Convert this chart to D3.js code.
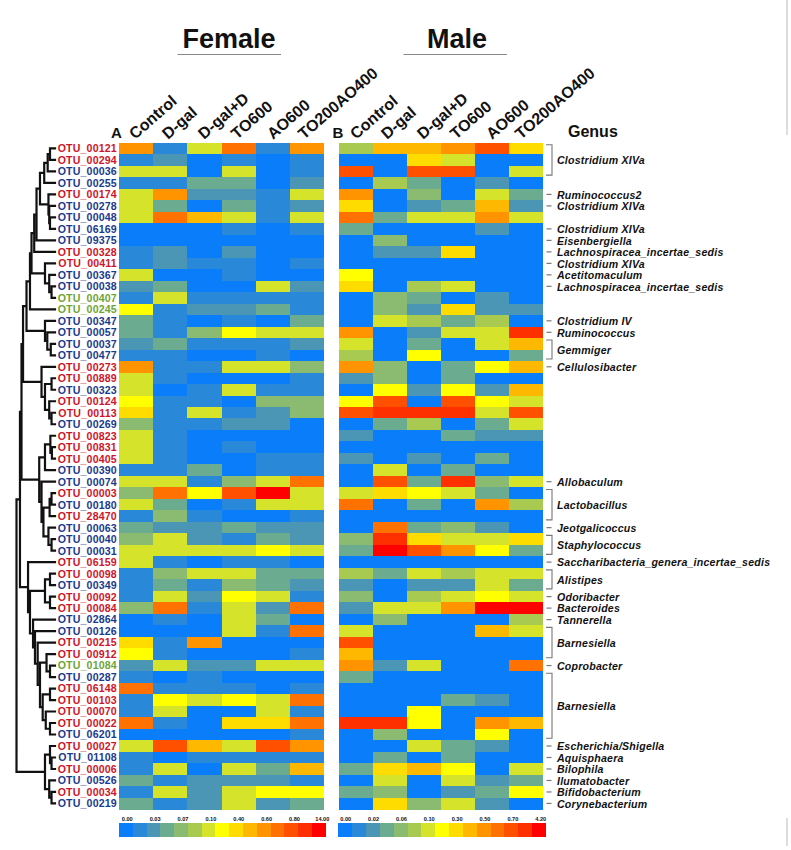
<!DOCTYPE html>
<html><head><meta charset="utf-8">
<script src="https://cdn.jsdelivr.net/npm/d3@7/dist/d3.min.js"></script>
<style>html,body{margin:0;padding:0;background:#fff}svg{display:block}text{font-family:"Liberation Sans",Arial,sans-serif}</style>
</head><body><svg id="c" width="791" height="850"></svg>
<script>
const otus=["00121","00294","00036","00255","00174","00278","00048","06169","09375","00328","00411","00367","00038","00407","00245","00347","00057","00037","00477","00273","00889","00323","00124","00113","00269","00823","00831","00405","00390","00074","00003","00180","28470","00063","00040","00031","06159","00098","00349","00092","00084","02864","00126","00215","00912","01084","00287","06148","00103","00070","00022","06201","00027","01108","00006","00526","00034","00219"];
const redOtus=["00121","00294","00174","00328","00411","00273","00889","00124","00113","00823","00831","00405","00003","28470","06159","00098","00092","00084","00215","00912","06148","00103","00070","00022","00027","00006","00034"];
const greenOtus=["00407","00245","01084"];
const groups=["Control","D-gal","D-gal+D","TO600","AO600","TO200AO400"];
// colour-bin index (0..14) of every cell, rows in otus order
const femaleBins=[[10,1,6,11,1,10],[1,2,0,1,0,1],[6,6,0,6,0,1],[1,1,3,3,0,2],[6,10,2,2,1,6],[6,3,0,3,1,2],[6,11,9,6,1,6],[0,0,0,1,0,1],[0,0,0,0,0,0],[1,2,0,2,0,0],[1,2,1,1,0,1],[6,0,0,1,0,0],[2,3,0,0,6,2],[1,6,1,1,1,1],[7,1,2,2,3,1],[3,1,0,1,0,3],[3,1,4,7,6,6],[2,3,1,1,1,2],[1,1,0,0,1,0],[10,1,1,6,6,4],[6,1,0,0,0,1],[6,0,1,6,1,1],[7,1,1,0,4,4],[8,1,6,1,2,4],[4,1,1,2,2,0],[6,1,0,0,0,0],[6,1,0,1,0,0],[6,1,0,0,1,1],[1,1,3,0,1,1],[6,6,1,4,6,11],[4,11,7,12,14,6],[6,3,0,1,6,6],[1,4,1,0,0,1],[3,2,2,3,2,2],[4,6,2,1,3,2],[6,6,6,6,7,6],[6,1,0,1,1,0],[1,4,6,6,3,3],[1,3,1,4,3,2],[1,6,2,7,6,1],[4,11,1,6,2,11],[0,1,0,6,3,0],[0,0,0,6,1,11],[8,1,10,0,0,0],[7,1,0,0,0,1],[2,6,2,2,6,6],[1,0,1,0,0,0],[11,1,1,1,0,1],[1,7,6,7,6,11],[1,6,0,0,6,1],[11,1,0,8,8,11],[0,0,0,0,0,1],[6,12,9,6,12,10],[1,0,1,1,1,1],[1,6,0,6,3,9],[3,1,2,2,2,1],[1,6,2,6,7,7],[3,1,2,6,2,3]];
const maleBins=[[5,9,9,10,12,8],[0,0,8,6,0,0],[12,0,12,12,0,6],[0,5,3,0,2,0],[10,0,4,0,6,3],[8,0,2,3,9,2],[11,3,6,6,10,6],[3,0,0,0,2,0],[0,4,0,0,0,0],[0,2,2,8,0,0],[0,0,0,0,0,0],[7,0,0,0,0,0],[8,0,5,6,0,0],[0,4,3,0,2,0],[0,4,2,8,2,2],[0,6,5,3,5,0],[10,0,2,6,6,13],[6,0,3,0,6,9],[5,0,7,0,0,3],[10,4,0,3,7,9],[2,4,0,3,0,0],[0,7,2,7,2,9],[7,12,0,12,7,6],[12,13,13,13,6,12],[0,3,5,0,3,6],[2,0,0,3,2,2],[0,0,0,0,0,0],[2,0,2,0,3,0],[0,6,0,3,0,0],[0,12,3,13,4,6],[6,8,7,6,3,0],[11,0,3,0,10,5],[0,0,0,0,0,0],[0,11,3,4,2,0],[4,13,8,6,6,8],[3,14,12,10,7,3],[0,0,0,0,0,0],[5,3,6,5,6,6],[2,0,2,2,6,3],[4,0,5,6,7,6],[2,6,6,10,14,14],[0,4,0,0,0,5],[6,0,0,0,9,6],[12,0,0,0,0,0],[9,0,0,0,0,0],[10,2,6,0,0,11],[3,0,0,0,0,0],[0,0,0,0,0,0],[0,0,0,3,2,0],[0,0,7,0,0,0],[13,13,7,0,10,9],[0,4,0,0,7,0],[0,0,6,3,2,0],[0,3,0,3,0,0],[3,8,9,7,0,6],[0,6,0,6,2,3],[3,4,0,2,3,7],[0,8,4,6,2,0]];
const palette=["#0a7dfa","#2a88d8","#4a96b4","#6bab90","#8abb70","#a9ca50","#d5e42a","#ffff00","#ffdc00","#ffb800","#ff9300","#ff7100","#ff5000","#ff3000","#ff0000"];
const femaleTicks=["0.00","0.03","0.07","0.10","0.40","0.60","0.80","14.00"];
const maleTicks=["0.00","0.02","0.06","0.10","0.30","0.50","0.70","4.20"];
// genus annotations: first row, last row (1-based), name
const genusSpans=[[1,3,"Clostridium XIVa"],[5,5,"Ruminococcus2"],[6,6,"Clostridium XIVa"],[8,8,"Clostridium XIVa"],[9,9,"Eisenbergiella"],[10,10,"Lachnospiracea_incertae_sedis"],[11,11,"Clostridium XIVa"],[12,12,"Acetitomaculum"],[13,13,"Lachnospiracea_incertae_sedis"],[16,16,"Clostridium IV"],[17,17,"Ruminococcus"],[18,19,"Gemmiger"],[20,20,"Cellulosibacter"],[30,30,"Allobaculum"],[31,33,"Lactobacillus"],[34,34,"Jeotgalicoccus"],[35,36,"Staphylococcus"],[37,37,"Saccharibacteria_genera_incertae_sedis"],[38,39,"Alistipes"],[40,40,"Odoribacter"],[41,41,"Bacteroides"],[42,42,"Tannerella"],[43,45,"Barnesiella"],[46,46,"Coprobacter"],[47,52,"Barnesiella"],[53,53,"Escherichia/Shigella"],[54,54,"Aquisphaera"],[55,55,"Bilophila"],[56,56,"Ilumatobacter"],[57,57,"Bifidobacterium"],[58,58,"Corynebacterium"]];
// clustering tree: [merge height, child, child...], leaves are OTU ids
const clusterAB=[.19,[.13,"00121","00294"],"00036"];
const clusterC=[.17,"00174",[.15,"00278",[.13,"00048","06169"]]];
const clusterD=[.26,"00411",[.15,"00367",[.09,"00038","00407"]]];
const clusterTop=[.61,[.54,[.48,[.39,[.28,clusterAB,"00255"],clusterC],"09375"],"00328"],clusterD];
const clusterE=[.74,[.65,clusterTop,"00245"],[.26,"00347",[.2,"00057",[.11,"00037","00477"]]]];
const clusterF=[.35,"00273",[.26,[.09,"00889","00323"],[.15,"00124",[.09,"00113","00269"]]]];
const clusterG=[.41,[.26,[.12,"00823",[.08,"00831","00405"]],"00390"],[.35,"00074",[.3,[.14,[.09,"00003","00180"],"28470"],[.17,"00063",[.09,"00040","00031"]]]]];
const clusterH=[.26,[.13,"00098","00349"],[.13,"00092","00084"]];
const clusterI=[.39,[.22,"00912",[.13,"01084","00287"]],[.32,[.13,"06148","00103"],[.24,"00070",[.13,"00022","06201"]]]];
const clusterJ=[.7,"06159",[.65,clusterH,[.57,"02864",[.52,"00126",[.45,"00215",clusterI]]]]];
const clusterK=[.26,[.13,"00027",[.09,"01108","00006"]],[.15,"00526",[.09,"00034","00219"]]];
const clusterRoot=[1,[.91,[.87,[.83,clusterE,clusterF],clusterG],clusterJ],clusterK];

const svg=d3.select("#c");
const y=d3.scaleBand().domain(d3.range(otus.length)).range([142.7,809.2]);
const color=d3.scaleOrdinal().domain(d3.range(palette.length)).range(palette);
const rowY=i=>y(i)+y.bandwidth()/2;
const nameColor=o=>redOtus.includes(o)?"#cf1528":greenOtus.includes(o)?"#6fa536":"#1b3a8c";

function heat(bins,x0,x1){
  const x=d3.scaleBand().domain(groups).range([x0,x1]);
  const g=svg.append("g").attr("shape-rendering","crispEdges");
  bins.forEach((row,i)=>g.selectAll(null).data(row).join("rect")
    .attr("x",(d,j)=>x(groups[j])).attr("y",y(i)).attr("width",x.bandwidth()).attr("height",y.bandwidth()+.3)
    .attr("fill",d=>color(d)));
}
heat(femaleBins,119,324.4);
heat(maleBins,339,543.3);

svg.append("g").selectAll("text").data(otus).join("text")
  .attr("x",116.8).attr("y",(d,i)=>rowY(i)+3.9).attr("text-anchor","end")
  .attr("font-size",10.6).attr("font-weight","bold").attr("letter-spacing",.15)
  .attr("fill",nameColor).text(d=>"OTU_"+d);

// dendrogram
const root=d3.hierarchy(clusterRoot,d=>Array.isArray(d)?d.slice(1):null);
const hx=d3.scaleLinear().domain([0,1]).range([55,16.5]);
const h=n=>n.children?n.data[0]:0;
root.eachAfter(n=>{
  n.py=n.children?(n.children[0].py+n.children[n.children.length-1].py)/2:rowY(otus.indexOf(n.data));
});
let dp="";
root.each(n=>{ if(!n.children)return;
  const px=hx(h(n));
  dp+=`M${px},${n.children[0].py}V${n.children[n.children.length-1].py}`;
  n.children.forEach(c=>{dp+=`M${px},${c.py}H${hx(h(c))}`;});
});
svg.append("path").attr("d",dp).attr("fill","none").attr("stroke","#111").attr("stroke-width",2.2).attr("stroke-linecap","square");

// headings
[["Female",229,177.5,281],["Male",457,403.5,507]].forEach(([t,cx,a,b])=>{
  svg.append("text").attr("x",cx).attr("y",48).attr("text-anchor","middle").attr("font-size",27).attr("font-weight","bold").attr("fill","#111").text(t);
  svg.append("line").attr("x1",a).attr("x2",b).attr("y1",54.5).attr("y2",54.5).attr("stroke","#888").attr("stroke-width",1.2);
});
const colStarts=[135,168,204,237,273,304,356,387,423,456,492,521];
[...groups,...groups].forEach((t,i)=>{
  svg.append("text").attr("transform",`translate(${colStarts[i]},140) rotate(-41)`)
   .attr("font-size",16).attr("font-weight","bold").attr("fill","#111").text(t);
});
[["A",111],["B",332.5]].forEach(([t,x])=>svg.append("text").attr("x",x).attr("y",138).attr("font-size",15).attr("font-weight","bold").attr("fill","#111").text(t));
svg.append("text").attr("x",568).attr("y",137).attr("font-size",16).attr("font-weight","bold").attr("fill","#111").text("Genus");

// genus annotations
const gg=svg.append("g");
genusSpans.forEach(([a,b,name])=>{
  const top=a===b?rowY(a-1):y(a-1)+2, bot=a===b?rowY(a-1):y(b-1)+y.bandwidth()-2;
  const mid=(top+bot)/2;
  if(a===b) gg.append("line").attr("x1",546.5).attr("x2",551.5).attr("y1",mid).attr("y2",mid).attr("stroke","#777").attr("stroke-width",1.2);
  else gg.append("path").attr("d",`M546,${top}H552V${bot}H546`).attr("fill","none").attr("stroke","#777").attr("stroke-width",1.1);
  gg.append("text").attr("x",557).attr("y",mid+4.2).attr("font-size",10.6).attr("font-weight","bold").attr("font-style","italic").attr("letter-spacing",.22).attr("fill","#111").text(name);
});

// legends
function legend(ticks,x0,x1,t0,t1){
  const lx=d3.scaleBand().domain(d3.range(palette.length)).range([x0,x1]);
  const tx=d3.scalePoint().domain(ticks).range([t0,t1]);
  svg.append("g").attr("shape-rendering","crispEdges").selectAll("rect").data(palette).join("rect")
    .attr("x",(d,i)=>lx(i)).attr("y",823).attr("width",lx.bandwidth()+.3).attr("height",13.7).attr("fill",d=>d);
  svg.append("g").selectAll("text").data(ticks).join("text").attr("x",d=>tx(d)).attr("y",821).attr("text-anchor","middle")
    .attr("font-size",5.6).attr("font-weight","bold").attr("fill","#111").text(d=>d);
}
legend(femaleTicks,119,325.7,127.3,322.3);
legend(maleTicks,338.3,546,345.7,540.7);

// page edge rules
[[0,135],[818,846]].forEach(([a,b])=>svg.append("line").attr("x1",787).attr("x2",787).attr("y1",a).attr("y2",b).attr("stroke","#bbb").attr("stroke-width",1));
</script></body></html>
